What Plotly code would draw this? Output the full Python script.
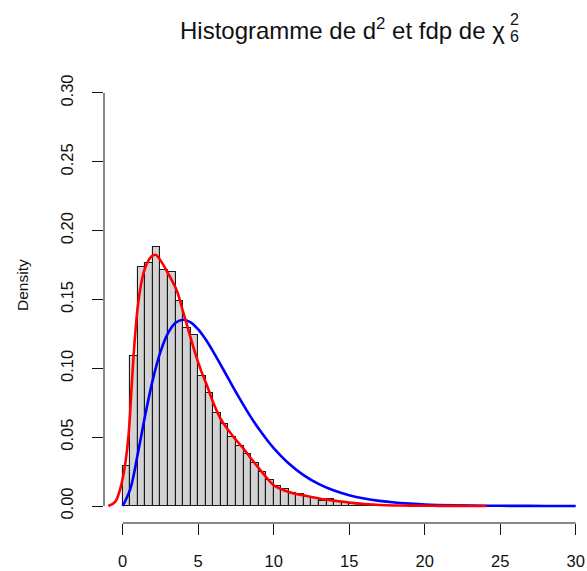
import plotly.graph_objects as go

# Histogram of d^2 (density scale, bins of width 0.5 starting at 0)
bin_width = 0.5
bin_density = [
    0.029, 0.109, 0.1735, 0.1765, 0.1884, 0.1715, 0.170, 0.149, 0.129, 0.124,
    0.0945, 0.082, 0.0673, 0.0598, 0.0504, 0.0438, 0.0375, 0.031, 0.025, 0.0189,
    0.0148, 0.0121, 0.0097, 0.0087, 0.0069, 0.0056, 0.0036, 0.0051, 0.0027, 0.0020,
    0.0015, 0.0012, 0.0007, 0.0004, 0.0003, 0.0002, 0.0002, 0.0001, 0.0001, 0.0,
    0.0001, 0.0, 0.0, 0.0, 0.0, 0.0,
]
bin_centers = [bin_width * (i + 0.5) for i in range(len(bin_density))]

# Kernel density estimate of d^2
kde_x = [-0.95, -0.5, -0.2, 0.0, 0.2, 0.4, 0.6, 0.8, 1.0, 1.2, 1.4, 1.6, 1.8,
         2.0, 2.2, 2.4, 2.7, 3.0, 3.3, 3.6, 4.0, 4.4, 4.8, 5.2, 5.6, 6.0, 6.5,
         7.0, 7.5, 8.0, 8.5, 9.0, 9.5, 10.0, 10.5, 11.0, 11.5, 12.0, 12.5, 13.0,
         13.5, 14.0, 14.5, 15.0, 15.5, 16.0, 17.0, 18.0, 19.0, 20.0, 21.0, 22.0,
         23.0, 24.1]
kde_y = [0.0, 0.003, 0.011, 0.020, 0.033, 0.053, 0.088, 0.121, 0.145, 0.160,
         0.170, 0.176, 0.180, 0.182, 0.1824, 0.180, 0.175, 0.169, 0.163, 0.156,
         0.141, 0.126, 0.111, 0.098, 0.087, 0.075, 0.063, 0.055, 0.048, 0.0417,
         0.0345, 0.0277, 0.021, 0.0151, 0.0122, 0.0102, 0.0087, 0.0077, 0.0066,
         0.0055, 0.0046, 0.0039, 0.0032, 0.0026, 0.0019, 0.0014, 0.0007, 0.0004,
         0.0003, 0.0002, 0.0001, 0.0001, 0.00005, 0.0]

# Chi-square density with 6 degrees of freedom
chi_x = [0, 0.5, 1, 1.5, 2, 2.5, 3, 3.5, 4, 4.5, 5, 5.5, 6, 6.5, 7, 7.5, 8, 8.5,
         9, 9.5, 10, 11, 12, 13, 14, 15, 16, 17, 18, 19, 20, 22, 24, 26, 28, 30]
chi_y = [0.0, 0.0122, 0.0379, 0.0664, 0.0920, 0.1119, 0.1255, 0.1331, 0.1353,
         0.1334, 0.1283, 0.1209, 0.1120, 0.1024, 0.0925, 0.0827, 0.0733, 0.0644,
         0.0562, 0.0488, 0.0421, 0.0309, 0.0223, 0.0159, 0.0112, 0.0078, 0.0054,
         0.0037, 0.0025, 0.0017, 0.0011, 0.0005, 0.0002, 0.0001, 0.00004, 0.00002]

x_ticks = [0, 5, 10, 15, 20, 25, 30]
y_ticks = [0.0, 0.05, 0.10, 0.15, 0.20, 0.25, 0.30]

W, H = 587, 571
L, R, T, B = 104, 0, 77, 48
PW, PH = W - L - R, H - T - B

def px_x(p):
    return (p - L) / PW

def px_y(p):
    return (H - B - p) / PH

FONT = "Liberation Sans, Arial, sans-serif"
INK = "#111111"

fig = go.Figure()
fig.add_trace(go.Bar(
    x=bin_centers, y=bin_density, width=bin_width,
    marker=dict(color="#D3D3D3", line=dict(color="#1a1a1a", width=1.1)),
    showlegend=False, hoverinfo="skip",
))
fig.add_trace(go.Scatter(
    x=chi_x, y=chi_y, mode="lines",
    line=dict(color="#0000FF", width=2.6, shape="spline"),
    showlegend=False,
))
fig.add_trace(go.Scatter(
    x=kde_x, y=kde_y, mode="lines",
    line=dict(color="#FF0000", width=2.6, shape="spline"),
    showlegend=False,
))

fig.update_layout(
    width=W, height=H,
    margin=dict(l=L, r=R, t=T, b=B, autoexpand=False),
    paper_bgcolor="white", plot_bgcolor="white",
    bargap=0,
    font=dict(family=FONT, size=16, color=INK),
    xaxis=dict(
        range=[-1.238, 30.748], tickvals=x_ticks,
        ticks="outside", ticklen=11, tickwidth=1, tickcolor=INK,
        showgrid=False, zeroline=False, showline=False,
        tickfont=dict(size=16.5, color=INK), ticklabelstandoff=12,
        automargin=False,
    ),
    yaxis=dict(
        range=[-0.01235, 0.3116], tickvals=y_ticks, tickformat=".2f",
        ticks="outside", ticklen=11, tickwidth=1, tickcolor=INK,
        showgrid=False, zeroline=False, showline=False,
        tickangle=-90, tickfont=dict(size=16.5, color=INK), ticklabelstandoff=12,
        automargin=False,
    ),
    shapes=[
        dict(type="line", xref="x", yref="paper", x0=x_ticks[0], x1=x_ticks[-1],
             y0=0, y1=0, line=dict(color=INK, width=1)),
        dict(type="line", xref="paper", yref="y", x0=0, x1=0,
             y0=y_ticks[0], y1=y_ticks[-1], line=dict(color=INK, width=1)),
    ],
    annotations=[
        dict(text="Density", xref="paper", yref="paper", x=px_x(22), y=px_y(285),
             textangle=-90, showarrow=False, font=dict(size=15.5, color=INK),
             xanchor="center", yanchor="middle"),
        dict(text="Histogramme de d<sup>2</sup> et fdp de χ", xref="paper", yref="paper",
             x=px_x(507), y=px_y(29), showarrow=False,
             font=dict(size=24, color=INK), xanchor="right", yanchor="middle"),
        dict(text="2", xref="paper", yref="paper", x=px_x(514), y=px_y(19),
             showarrow=False, font=dict(size=16, color=INK),
             xanchor="center", yanchor="middle"),
        dict(text="6", xref="paper", yref="paper", x=px_x(514), y=px_y(37),
             showarrow=False, font=dict(size=16, color=INK),
             xanchor="center", yanchor="middle"),
    ],
)

fig.write_html("out.html")
